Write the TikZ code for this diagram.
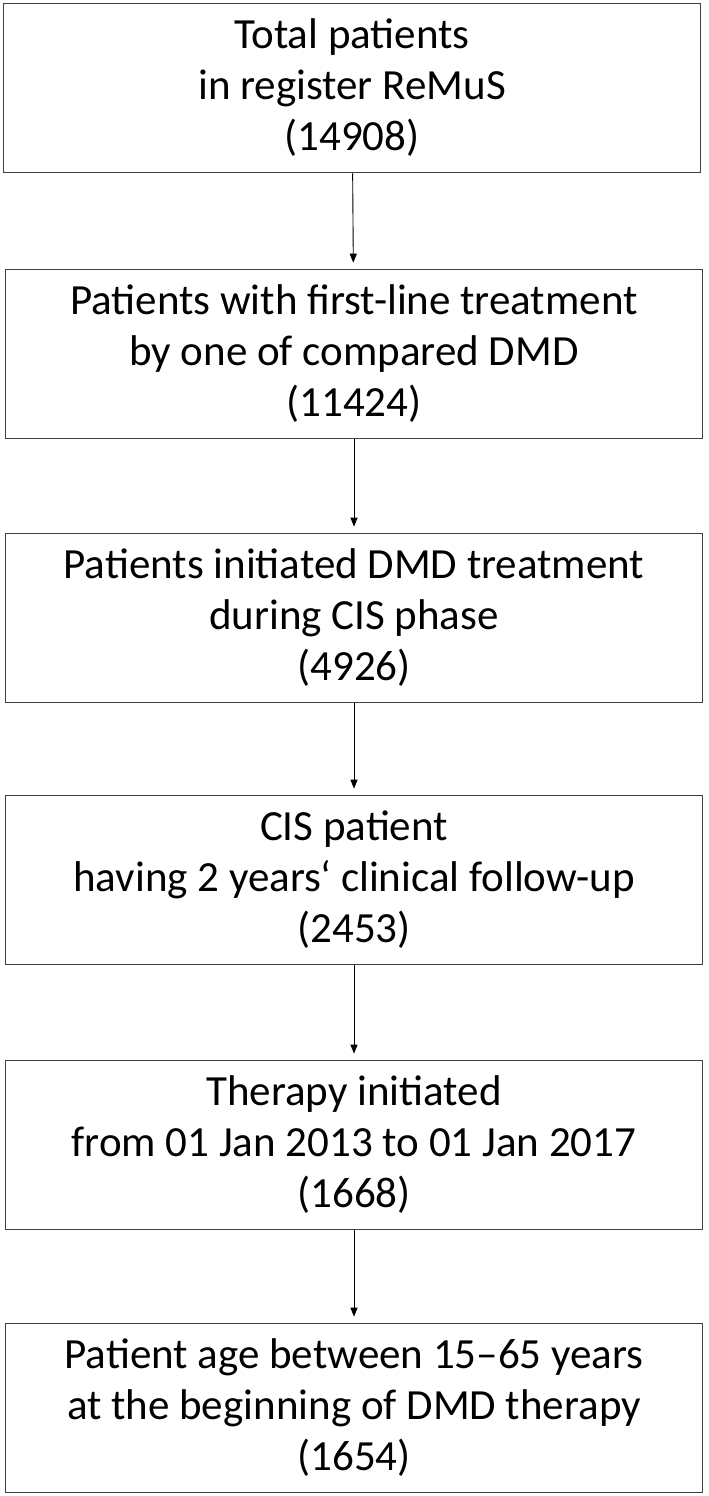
\documentclass[tikz,border=0pt]{standalone}
\usepackage{fontspec}
\setmainfont{Carlito}
\usetikzlibrary{arrows.meta}
\begin{document}
\begin{tikzpicture}[x=1pt,y=-1pt]
\tikzstyle{every node}=[draw=black!75,line width=1.6pt,rectangle,minimum width=697pt,minimum height=169pt,align=center,inner sep=0pt,font=\fontsize{43}{51}\selectfont]
\tikzstyle{flow}=[-{Triangle[width=7pt,length=9pt]},line width=0.9pt,shorten >=6pt]
\useasboundingbox (0,0) rectangle (709,1496);
\node(total) at (352,88) {Total patients\\in register ReMuS\\(14908)};
\node(firstline) at (354,354) {Patients with first-line treatment\\by one of compared DMD\\(11424)};
\node(cisphase) at (354,618) {Patients initiated DMD treatment\\during CIS phase\\(4926)};
\node(followup) at (354,880) {CIS patient\\having 2 years‘ clinical follow-up\\(2453)};
\node(period) at (354,1145) {Therapy initiated\\from 01 Jan 2013 to 01 Jan 2017\\(1668)};
\node(age) at (354,1408) {Patient age between 15–65 years\\at the beginning of DMD therapy\\(1654)};
\draw[flow] (total) -- (firstline);
\draw[flow] (firstline) -- (cisphase);
\draw[flow] (cisphase) -- (followup);
\draw[flow] (followup) -- (period);
\draw[flow] (period) -- (age);
\end{tikzpicture}
\end{document}
